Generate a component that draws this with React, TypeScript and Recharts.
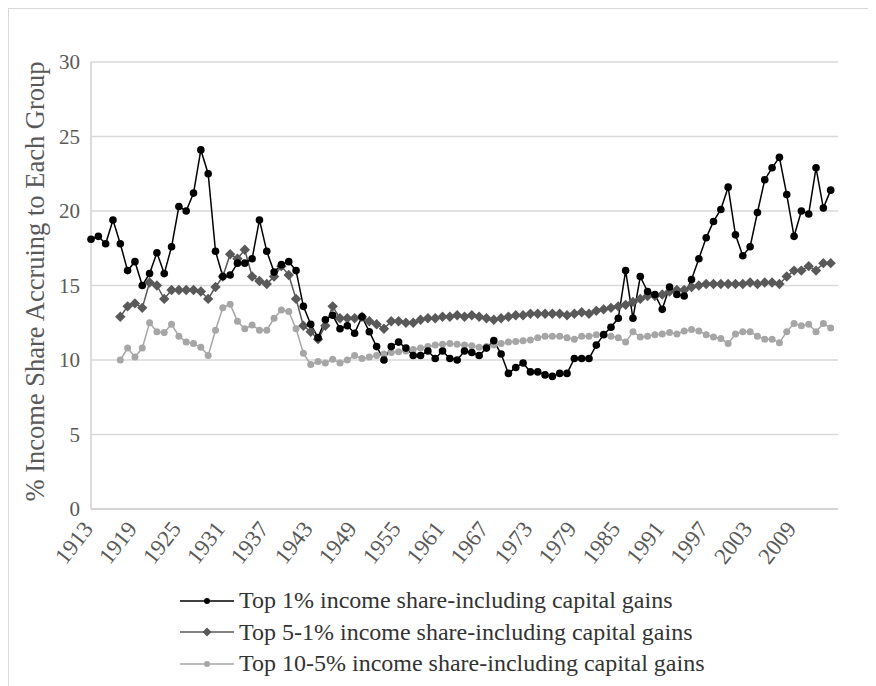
import React from 'react';
import { LineChart, Line, XAxis, YAxis, CartesianGrid } from 'recharts';

const years: number[] = Array.from({ length: 102 }, (_, i) => 1913 + i);

const top1: number[] = [
  18.1, 18.3, 17.8, 19.4, 17.8, 16.0, 16.6, 15.0, 15.8, 17.2,
  15.8, 17.6, 20.3, 20.0, 21.2, 24.1, 22.5, 17.3, 15.6, 15.7,
  16.5, 16.5, 16.8, 19.4, 17.3, 15.9, 16.4, 16.6, 16.0, 13.6,
  12.4, 11.5, 12.7, 13.0, 12.1, 12.3, 11.8, 12.9, 11.9, 10.9,
  10.0, 10.9, 11.2, 10.8, 10.3, 10.3, 10.6, 10.1, 10.6, 10.1,
  10.0, 10.6, 10.5, 10.3, 10.8, 11.3, 10.4, 9.1, 9.5, 9.8,
  9.2, 9.2, 9.0, 8.9, 9.1, 9.1, 10.1, 10.1, 10.1, 11.0,
  11.7, 12.2, 12.8, 16.0, 12.8, 15.6, 14.6, 14.4, 13.4, 14.9,
  14.4, 14.3, 15.4, 16.8, 18.2, 19.3, 20.1, 21.6, 18.4, 17.0,
  17.6, 19.9, 22.1, 22.9, 23.6, 21.1, 18.3, 20.0, 19.8, 22.9,
  20.2, 21.4,
];

// from 1917
const top5to1: number[] = [
  12.9, 13.6, 13.8, 13.5, 15.2, 15.0, 14.1, 14.7, 14.7, 14.7,
  14.7, 14.6, 14.1, 14.9, 15.6, 17.1, 16.8, 17.4, 15.6, 15.3,
  15.1, 15.6, 16.3, 15.7, 14.1, 12.3, 11.9, 11.4, 12.3, 13.6,
  12.8, 12.8, 12.8, 12.9, 12.6, 12.4, 12.1, 12.6, 12.6, 12.5,
  12.5, 12.7, 12.8, 12.8, 12.9, 12.9, 13.0, 12.9, 13.0, 12.9,
  12.8, 12.7, 12.8, 12.9, 13.0, 13.0, 13.1, 13.1, 13.1, 13.1,
  13.1, 13.0, 13.1, 13.2, 13.1, 13.3, 13.4, 13.5, 13.6, 13.7,
  13.9, 14.1, 14.3, 14.3, 14.4, 14.6, 14.7, 14.7, 14.9, 15.0,
  15.1, 15.1, 15.1, 15.1, 15.1, 15.1, 15.2, 15.1, 15.2, 15.2,
  15.1, 15.6, 16.0, 16.0, 16.3, 16.0, 16.5, 16.5,
];

// from 1917
const top10to5: number[] = [
  10.0, 10.8, 10.2, 10.8, 12.5, 11.9, 11.85, 12.4, 11.6, 11.2,
  11.1, 10.85, 10.3, 12.0, 13.5, 13.75, 12.6, 12.1, 12.35, 12.0,
  12.0, 12.8, 13.35, 13.25, 12.1, 10.45, 9.7, 9.9, 9.8, 10.05,
  9.8, 10.0, 10.3, 10.1, 10.2, 10.3, 10.4, 10.5, 10.55, 10.6,
  10.7, 10.8, 10.9, 11.0, 11.05, 11.1, 11.05, 11.0, 10.95, 10.85,
  10.9, 11.0, 11.1, 11.2, 11.25, 11.3, 11.35, 11.5, 11.6, 11.6,
  11.6, 11.5, 11.4, 11.6, 11.6, 11.7, 11.7, 11.6, 11.5, 11.2,
  11.9, 11.55, 11.6, 11.7, 11.75, 11.85, 11.75, 11.95, 12.05, 11.95,
  11.7, 11.55, 11.45, 11.1, 11.75, 11.9, 11.9, 11.6, 11.4, 11.4,
  11.15, 11.9, 12.45, 12.3, 12.4, 11.9, 12.45, 12.15,
];

const yearTicks = [1913, 1919, 1925, 1931, 1937, 1943, 1949, 1955, 1961, 1967, 1973, 1979, 1985, 1991, 1997, 2003, 2009];
const valueTicks = [0, 5, 10, 15, 20, 25, 30];

const seriesNames = [
  'Top 1% income share-including capital gains',
  'Top 5-1% income share-including capital gains',
  'Top 10-5% income share-including capital gains',
];

const offset = 1917 - 1913;
const data = years.map((year, i) => ({
  year,
  top1: top1[i],
  top5to1: i >= offset ? top5to1[i - offset] : null,
  top10to5: i >= offset ? top10to5[i - offset] : null,
}));

const FONT = '"Liberation Serif", "Times New Roman", serif';
const TEXT = '#595959';

const YearTick = (props: any) => {
  const { x, y, payload } = props;
  const tx = x - 1;
  const ty = y + 9;
  return (
    <text
      x={tx}
      y={ty}
      transform={`rotate(-52 ${tx} ${ty})`}
      textAnchor="end"
      dominantBaseline="middle"
      fill={TEXT}
      fontSize={23}
      fontFamily={FONT}
    >
      {payload.value}
    </text>
  );
};

const Diamond = (props: any) => {
  const { cx, cy, index } = props;
  if (cx == null || cy == null || props.value == null) return <g key={index} />;
  const r = 5.2;
  return (
    <path
      key={index}
      d={`M${cx},${cy - r} L${cx + r},${cy} L${cx},${cy + r} L${cx - r},${cy} Z`}
      fill="#595959"
    />
  );
};

const LegendIcon = ({ color, shape }: { color: string; shape: 'circle' | 'diamond' }) => (
  <svg width={54} height={12} style={{ marginRight: 5 }}>
    <line x1={0} y1={6} x2={54} y2={6} stroke={color} strokeWidth={1.5} />
    {shape === 'circle' ? (
      <circle cx={27} cy={6} r={3} fill={color} />
    ) : (
      <path d="M27,1.5 L31.5,6 L27,10.5 L22.5,6 Z" fill={color} />
    )}
  </svg>
);

const legendItems = [
  { name: seriesNames[0], color: '#000000', shape: 'circle' as const },
  { name: seriesNames[1], color: '#595959', shape: 'diamond' as const },
  { name: seriesNames[2], color: '#a6a6a6', shape: 'circle' as const },
];

export default function App() {
  return (
    <div
      style={{
        position: 'relative',
        width: 868,
        height: 678,
        boxSizing: 'border-box',
        borderTop: '1px solid #d9d9d9',
        borderLeft: '1px solid #d9d9d9',
        fontFamily: FONT,
        background: '#fff',
      }}
    >
      <div style={{ position: 'absolute', left: 0, top: 0 }}>
        <LineChart
          width={850}
          height={600}
          data={data}
          margin={{ top: 53, right: 21, left: 0, bottom: 0 }}
        >
          <CartesianGrid vertical={false} stroke="#d9d9d9" strokeWidth={1.3} />
          <XAxis
            dataKey="year"
            type="number"
            domain={[1913, 2015]}
            ticks={yearTicks}
            interval={0}
            height={100}
            tickLine={false}
            axisLine={{ stroke: '#d0d0d0', strokeWidth: 1.5 }}
            tick={<YearTick />}
          />
          <YAxis
            domain={[0, 30]}
            ticks={valueTicks}
            width={82}
            tickLine={false}
            tickMargin={5}
            axisLine={{ stroke: '#d0d0d0', strokeWidth: 1.5 }}
            tick={{ fill: TEXT, fontSize: 21, fontFamily: FONT }}
            label={{
              content: (p: any) => {
                const vb = p.viewBox || { x: 0, y: 53, width: 82, height: 447 };
                const cx = vb.x + 29;
                const cy = vb.y + vb.height / 2 - 4;
                return (
                  <text
                    x={cx}
                    y={cy}
                    transform={`rotate(-90 ${cx} ${cy})`}
                    textAnchor="middle"
                    dominantBaseline="middle"
                    fill={TEXT}
                    fontSize={26.5}
                    fontFamily={FONT}
                  >
                    % Income Share Accruing to Each Group
                  </text>
                );
              },
            }}
          />
          <Line
            type="linear"
            dataKey="top10to5"
            name={seriesNames[2]}
            stroke="#a6a6a6"
            strokeWidth={1.5}
            dot={{ r: 3.5, fill: '#a6a6a6', stroke: 'none' }}
            connectNulls={false}
            isAnimationActive={false}
          />
          <Line
            type="linear"
            dataKey="top5to1"
            name={seriesNames[1]}
            stroke="#595959"
            strokeWidth={1.5}
            dot={<Diamond />}
            connectNulls={false}
            isAnimationActive={false}
          />
          <Line
            type="linear"
            dataKey="top1"
            name={seriesNames[0]}
            stroke="#000000"
            strokeWidth={1.5}
            dot={{ r: 3.8, fill: '#000000', stroke: 'none' }}
            isAnimationActive={false}
          />
        </LineChart>
      </div>
      <div style={{ position: 'absolute', left: 171, top: 576 }}>
        {legendItems.map((item) => (
          <div
            key={item.name}
            style={{ display: 'flex', alignItems: 'center', height: 31.5, fontSize: 24, color: '#333333' }}
          >
            <LegendIcon color={item.color} shape={item.shape} />
            <span>{item.name}</span>
          </div>
        ))}
      </div>
    </div>
  );
}
